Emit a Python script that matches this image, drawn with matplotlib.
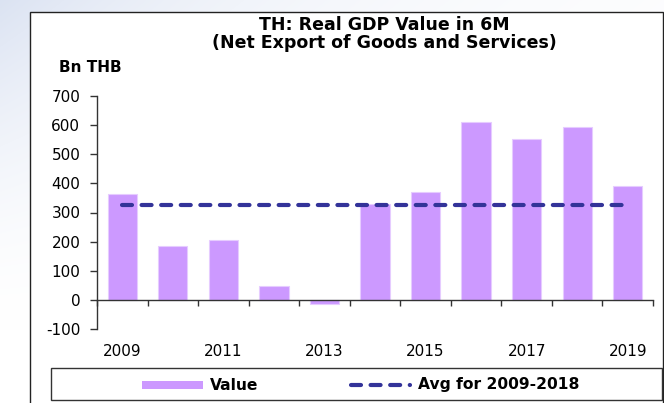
import numpy as np
import matplotlib
matplotlib.use('Agg')
import matplotlib.pyplot as plt
from matplotlib.patches import Rectangle
from matplotlib.lines import Line2D
import matplotlib.transforms as mtransforms

# ---- data ----
years = [2009, 2010, 2011, 2012, 2013, 2014, 2015, 2016, 2017, 2018, 2019]
values = [365, 184, 205, 49, -13, 328, 370, 610, 552, 595, 391]
avg_values = [325, 325, 325, 325, 325, 325, 325, 325, 325, 325, 325]
ytick_values = [-100, 0, 100, 200, 300, 400, 500, 600, 700]
xtick_labels = ['2009', '2011', '2013', '2015', '2017', '2019']

BAR_COLOR = '#CC99FF'
LINE_COLOR = '#333399'
FONT = ['DejaVu Sans']
plt.rcParams['font.family'] = FONT

W, H = 664, 403
fig = plt.figure(figsize=(W / 100, H / 100), dpi=100)


def fx(px):
    return px / W


def fy(py):
    return 1 - py / H


# ---- background tint (top-left) ----
bg = fig.add_axes([0, 0, 1, 1], zorder=-10)
bg.set_axis_off()
yy, xx = np.mgrid[0:H, 0:W]
w = np.clip(1 - yy / 330.0, 0, 1) ** 1.6 * np.exp(-xx / 260.0)
base = np.array([0.86, 0.89, 0.95])
img = 1 - w[..., None] * (1 - base)
bg.imshow(img, extent=[0, 1, 0, 1], aspect='auto', origin='upper')
bg.set_xlim(0, 1)
bg.set_ylim(0, 1)

# ---- outer frame ----
frame = Rectangle((fx(29.5), fy(410)), fx(662.5) - fx(29.5), fy(12) - fy(410),
                  transform=fig.transFigure, facecolor='white',
                  edgecolor='#222222', linewidth=1.0, zorder=-5)
fig.patches.append(frame)

# ---- main axes ----
ax = fig.add_axes([fx(97), fy(329), fx(653) - fx(97), (329 - 96) / H])
ax.set_facecolor('none')
x = np.arange(len(years))
ax.bar(x, values, width=0.58, color=BAR_COLOR, edgecolor='#E6CCFF',
       linewidth=0.8, zorder=2)
ax.plot(x, avg_values, color=LINE_COLOR, linewidth=3.0,
        linestyle=(0, (2.4, 2.3)), dash_capstyle='round', zorder=3)

ax.set_xlim(-0.5, len(years) - 0.5)
ax.set_ylim(-100, 700)
for s in ['top', 'right']:
    ax.spines[s].set_visible(False)
ax.spines['bottom'].set_position(('data', 0))
ax.spines['bottom'].set_color('#333333')
ax.spines['left'].set_color('#333333')
ax.spines['bottom'].set_linewidth(1.0)
ax.spines['left'].set_linewidth(1.0)

ax.set_xticks(np.arange(-0.5, len(years), 1.0))
ax.set_xticklabels([])
ax.tick_params(axis='x', direction='out', length=4.5, width=1.0, color='#333333')
ax.set_yticks(ytick_values)
ax.set_yticklabels([str(v) for v in ytick_values])
ax.tick_params(axis='y', direction='out', length=5, width=1.0, color='#333333',
               pad=7, labelsize=11, labelcolor='black')

trans = mtransforms.blended_transform_factory(ax.transData, ax.transAxes)
for lab in xtick_labels:
    i = years.index(int(lab))
    ax.text(i, -0.095, lab, transform=trans, ha='center', va='center',
            fontsize=11, color='black')

# ---- titles ----
fig.text(fx(384), fy(30), 'TH: Real GDP Value in 6M', ha='center',
         va='baseline', fontsize=12.5, fontweight='bold')
fig.text(fx(384), fy(48), '(Net Export of Goods and Services)', ha='center',
         va='baseline', fontsize=12.5, fontweight='bold')
fig.text(fx(59), fy(72), 'Bn THB', ha='left', va='baseline', fontsize=11,
         fontweight='bold')

# ---- legend ----
lbox = Rectangle((fx(51), fy(400)), fx(662) - fx(51), fy(368) - fy(400),
                 transform=fig.transFigure, facecolor='white',
                 edgecolor='#333333', linewidth=1.0)
fig.patches.append(lbox)
fig.patches.append(Rectangle((fx(142), fy(389)), fx(203) - fx(142),
                             fy(381) - fy(389), transform=fig.transFigure,
                             facecolor=BAR_COLOR, edgecolor='none'))
fig.text(fx(210), fy(385), 'Value', ha='left', va='center', fontsize=11.2,
         fontweight='bold')
fig.lines.append(Line2D([fx(351), fx(410)], [fy(385), fy(385)],
                        transform=fig.transFigure, color=LINE_COLOR,
                        linewidth=3.0, linestyle=(0, (2.4, 2.3)),
                        dash_capstyle='round'))
fig.text(fx(418), fy(385), 'Avg for 2009-2018', ha='left', va='center',
         fontsize=11.2, fontweight='bold')

fig.savefig('out.png', dpi=100)
